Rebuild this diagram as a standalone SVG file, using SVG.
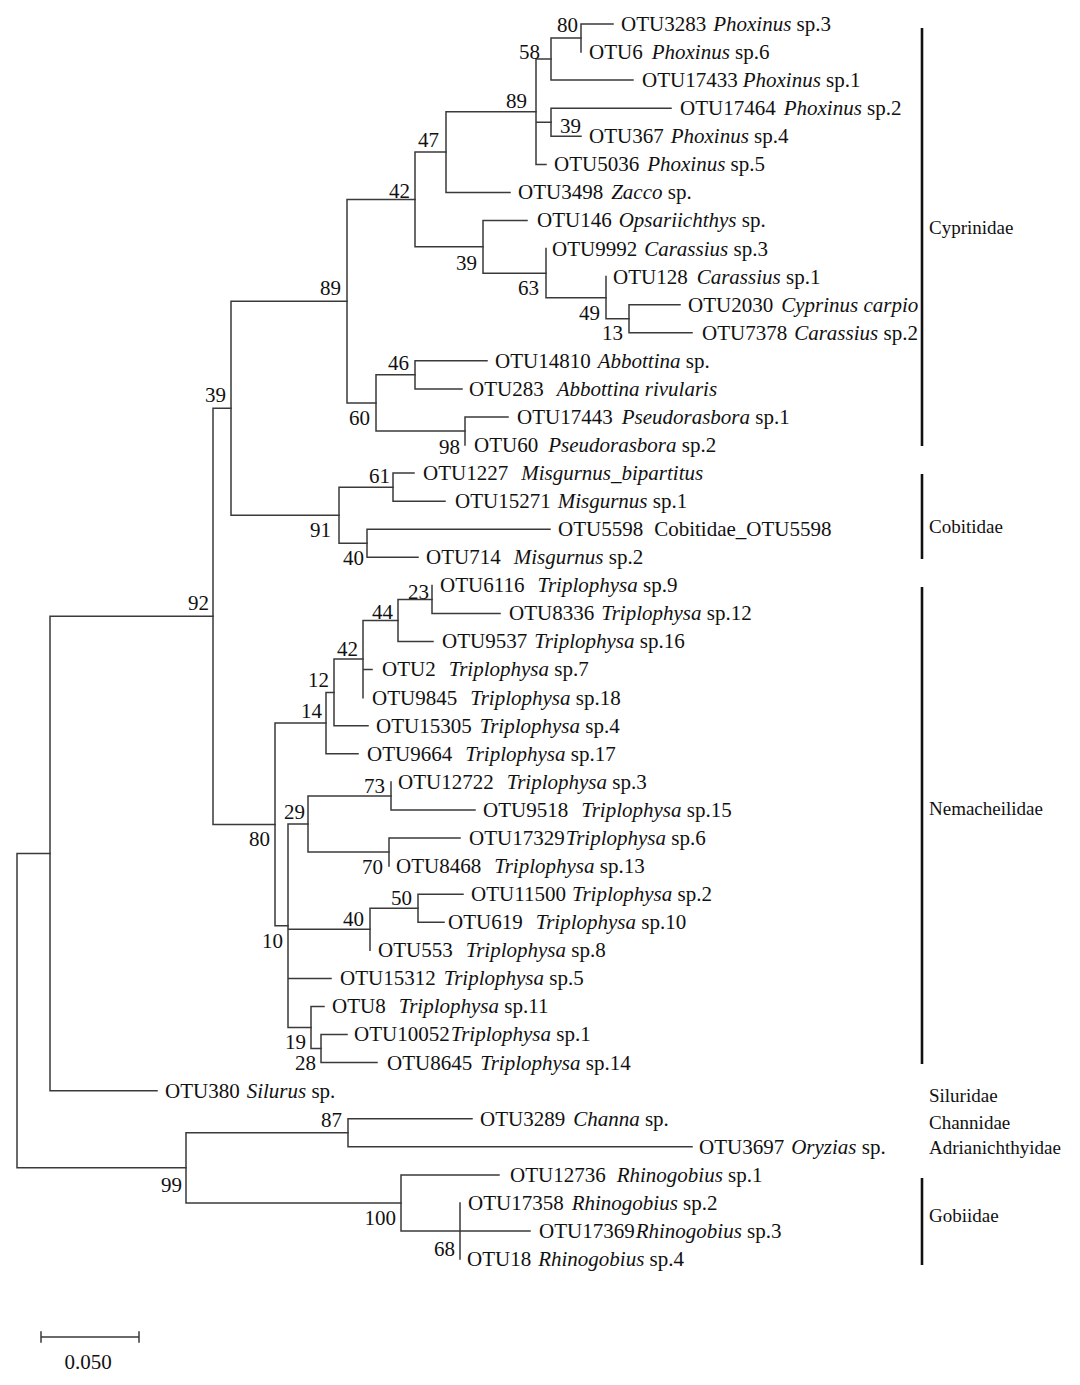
<svg xmlns="http://www.w3.org/2000/svg" width="1080" height="1385" viewBox="0 0 1080 1385">
<style>
text{font-family:"Liberation Serif","Times New Roman",serif;font-size:21px;fill:#111}
.i{font-style:italic}
.bs{text-anchor:end}
.fam{font-size:19px}
.br{fill:none;stroke:#3a3a3a;stroke-width:1.5;stroke-linecap:square}
.bar{stroke:#111;stroke-width:2.6}
</style>
<rect width="1080" height="1385" fill="#fff"/>
<g id="connectors" class="br">
<path d="M581 24V52.1M581 24H613"/>
<path d="M551 38.05V80.1M551 38.05H581M551 80.1H633"/>
<path d="M551 108.2V136.3M551 108.2H671M551 136.3H581"/>
<path d="M536 59.1V164.4M536 59.1H551M536 122.25H551M536 164.4H546"/>
<path d="M446 111.75V192.4M446 111.75H536M446 192.4H510"/>
<path d="M629 304.7V332.8M629 304.7H680M629 332.8H692"/>
<path d="M606 276.6V318.75M606 318.75H629"/>
<path d="M546 248.6V297.7M546 297.7H606"/>
<path d="M483 220.5V273.15M483 220.5H527M483 273.15H546"/>
<path d="M415 152.1V246.8M415 152.1H446M415 246.8H483"/>
<path d="M415 360.8V388.9M415 360.8H487M415 388.9H462"/>
<path d="M465 417V445.1M465 417H508"/>
<path d="M376 374.85V431.05M376 374.85H415M376 431.05H465"/>
<path d="M347 199.45V402.95M347 199.45H415M347 402.95H376"/>
<path d="M393 473.1V501.2M393 473.1H414M393 501.2H445"/>
<path d="M367 529.3V557.3M367 529.3H550M367 557.3H418"/>
<path d="M339 487.15V543.3M339 487.15H393M339 543.3H367"/>
<path d="M231 301.2V515.2M231 301.2H347M231 515.2H339"/>
<path d="M432 585.4V613.5M432 613.5H500"/>
<path d="M398 599.45V641.5M398 599.45H432M398 641.5H433"/>
<path d="M363 620.5V697.7M363 620.5H398M363 669.6H372"/>
<path d="M334 659.1V725.8M334 659.1H363M334 725.8H368"/>
<path d="M326 692.45V753.8M326 692.45H334M326 753.8H358"/>
<path d="M391 781.9V810M391 810H475"/>
<path d="M389 838V866.1M389 838H460"/>
<path d="M308 795.95V852.05M308 795.95H391M308 852.05H389"/>
<path d="M418 894.2V922.2M418 894.2H463M418 922.2H444"/>
<path d="M370 908.2V950.3M370 908.2H418"/>
<path d="M321 1034.5V1062.6M321 1034.5H347M321 1062.6H377"/>
<path d="M311 1006.5V1048.55M311 1006.5H324M311 1048.55H321"/>
<path d="M288 824V1027.5M288 824H308M288 929.25H370M288 978.4H331M288 1027.5H311"/>
<path d="M275 723.1V925.75M275 723.1H326M275 925.75H288"/>
<path d="M213 408.2V824.4M213 408.2H231M213 824.4H275"/>
<path d="M50 616.3V1090.7M50 616.3H213M50 1090.7H157"/>
<path d="M348 1118.7V1146.8M348 1118.7H472M348 1146.8H692"/>
<path d="M460 1202.9V1259M460 1231H530"/>
<path d="M401 1174.9V1231M401 1174.9H499M401 1231H460"/>
<path d="M186 1132.75V1202.95M186 1132.75H348M186 1202.95H401"/>
<path d="M17 853.5V1167.85M17 853.5H50M17 1167.85H186"/>
</g>
<g id="leaves">
<g id="otu3283"><text x="621" y="31">OTU3283<tspan class="i" dx="7">Phoxinus</tspan> sp.3</text></g>
<g id="otu6"><text x="589" y="59">OTU6<tspan class="i" dx="9">Phoxinus</tspan> sp.6</text></g>
<g id="otu17433"><text x="642" y="87">OTU17433<tspan class="i" dx="5">Phoxinus</tspan> sp.1</text></g>
<g id="otu17464"><text x="680" y="115">OTU17464<tspan class="i" dx="8">Phoxinus</tspan> sp.2</text></g>
<g id="otu367"><text x="589" y="143">OTU367<tspan class="i" dx="7">Phoxinus</tspan> sp.4</text></g>
<g id="otu5036"><text x="554" y="171">OTU5036<tspan class="i" dx="8">Phoxinus</tspan> sp.5</text></g>
<g id="otu3498"><text x="518" y="199">OTU3498<tspan class="i" dx="8">Zacco</tspan> sp.</text></g>
<g id="otu146"><text x="537" y="227">OTU146<tspan class="i" dx="7">Opsariichthys</tspan> sp.</text></g>
<g id="otu9992"><text x="552" y="256">OTU9992<tspan class="i" dx="7">Carassius</tspan> sp.3</text></g>
<g id="otu128"><text x="613" y="284">OTU128<tspan class="i" dx="9">Carassius</tspan> sp.1</text></g>
<g id="otu2030"><text x="688" y="312">OTU2030<tspan class="i" dx="8">Cyprinus carpio</tspan></text></g>
<g id="otu7378"><text x="702" y="340">OTU7378<tspan class="i" dx="7">Carassius</tspan> sp.2</text></g>
<g id="otu14810"><text x="495" y="368">OTU14810<tspan class="i" dx="7">Abbottina</tspan> sp.</text></g>
<g id="otu283"><text x="469" y="396">OTU283<tspan class="i" dx="13">Abbottina rivularis</tspan></text></g>
<g id="otu17443"><text x="517" y="424">OTU17443<tspan class="i" dx="9">Pseudorasbora</tspan> sp.1</text></g>
<g id="otu60"><text x="474" y="452">OTU60<tspan class="i" dx="10">Pseudorasbora</tspan> sp.2</text></g>
<g id="otu1227"><text x="423" y="480">OTU1227<tspan class="i" dx="13">Misgurnus_bipartitus</tspan></text></g>
<g id="otu15271"><text x="455" y="508">OTU15271<tspan class="i" dx="7">Misgurnus</tspan> sp.1</text></g>
<g id="otu5598"><text x="558" y="536">OTU5598<tspan dx="11">Cobitidae_OTU5598</tspan></text></g>
<g id="otu714"><text x="426" y="564">OTU714<tspan class="i" dx="13">Misgurnus</tspan> sp.2</text></g>
<g id="otu6116"><text x="440" y="592">OTU6116<tspan class="i" dx="13">Triplophysa</tspan> sp.9</text></g>
<g id="otu8336"><text x="509" y="620">OTU8336<tspan class="i" dx="7">Triplophysa</tspan> sp.12</text></g>
<g id="otu9537"><text x="442" y="648">OTU9537<tspan class="i" dx="7">Triplophysa</tspan> sp.16</text></g>
<g id="otu2"><text x="382" y="676">OTU2<tspan class="i" dx="13">Triplophysa</tspan> sp.7</text></g>
<g id="otu9845"><text x="372" y="705">OTU9845<tspan class="i" dx="13">Triplophysa</tspan> sp.18</text></g>
<g id="otu15305"><text x="376" y="733">OTU15305<tspan class="i" dx="8">Triplophysa</tspan> sp.4</text></g>
<g id="otu9664"><text x="367" y="761">OTU9664<tspan class="i" dx="13">Triplophysa</tspan> sp.17</text></g>
<g id="otu12722"><text x="398" y="789">OTU12722<tspan class="i" dx="13">Triplophysa</tspan> sp.3</text></g>
<g id="otu9518"><text x="483" y="817">OTU9518<tspan class="i" dx="13">Triplophysa</tspan> sp.15</text></g>
<g id="otu17329"><text x="469" y="845">OTU17329<tspan class="i" dx="1">Triplophysa</tspan> sp.6</text></g>
<g id="otu8468"><text x="396" y="873">OTU8468<tspan class="i" dx="13">Triplophysa</tspan> sp.13</text></g>
<g id="otu11500"><text x="471" y="901">OTU11500<tspan class="i" dx="6">Triplophysa</tspan> sp.2</text></g>
<g id="otu619"><text x="448" y="929">OTU619<tspan class="i" dx="13">Triplophysa</tspan> sp.10</text></g>
<g id="otu553"><text x="378" y="957">OTU553<tspan class="i" dx="13">Triplophysa</tspan> sp.8</text></g>
<g id="otu15312"><text x="340" y="985">OTU15312<tspan class="i" dx="8">Triplophysa</tspan> sp.5</text></g>
<g id="otu8"><text x="332" y="1013">OTU8<tspan class="i" dx="13">Triplophysa</tspan> sp.11</text></g>
<g id="otu10052"><text x="354" y="1041">OTU10052<tspan class="i" dx="1">Triplophysa</tspan> sp.1</text></g>
<g id="otu8645"><text x="387" y="1070">OTU8645<tspan class="i" dx="8">Triplophysa</tspan> sp.14</text></g>
<g id="otu380"><text x="165" y="1098">OTU380<tspan class="i" dx="7">Silurus</tspan> sp.</text></g>
<g id="otu3289"><text x="480" y="1126">OTU3289<tspan class="i" dx="8">Channa</tspan> sp.</text></g>
<g id="otu3697"><text x="699" y="1154">OTU3697<tspan class="i" dx="7">Oryzias</tspan> sp.</text></g>
<g id="otu12736"><text x="510" y="1182">OTU12736<tspan class="i" dx="11">Rhinogobius</tspan> sp.1</text></g>
<g id="otu17358"><text x="468" y="1210">OTU17358<tspan class="i" dx="8">Rhinogobius</tspan> sp.2</text></g>
<g id="otu17369"><text x="539" y="1238">OTU17369<tspan class="i" dx="1">Rhinogobius</tspan> sp.3</text></g>
<g id="otu18"><text x="467" y="1266">OTU18<tspan class="i" dx="7">Rhinogobius</tspan> sp.4</text></g>
</g>
<g id="bootstrap" class="bs">
<text x="578" y="32">80</text>
<text x="540" y="59">58</text>
<text x="527" y="108">89</text>
<text x="560" y="133" style="text-anchor:start">39</text>
<text x="439" y="147">47</text>
<text x="410" y="198">42</text>
<text x="477" y="270">39</text>
<text x="539" y="295">63</text>
<text x="600" y="320">49</text>
<text x="623" y="340">13</text>
<text x="341" y="295">89</text>
<text x="409" y="370">46</text>
<text x="370" y="425">60</text>
<text x="460" y="454">98</text>
<text x="226" y="402">39</text>
<text x="390" y="483">61</text>
<text x="331" y="537">91</text>
<text x="364" y="565">40</text>
<text x="209" y="610">92</text>
<text x="429" y="599">23</text>
<text x="393" y="619">44</text>
<text x="358" y="656">42</text>
<text x="329" y="687">12</text>
<text x="322" y="718">14</text>
<text x="385" y="793">73</text>
<text x="305" y="819">29</text>
<text x="270" y="846">80</text>
<text x="383" y="874">70</text>
<text x="412" y="905">50</text>
<text x="364" y="926">40</text>
<text x="283" y="948">10</text>
<text x="306" y="1049">19</text>
<text x="316" y="1070">28</text>
<text x="342" y="1127">87</text>
<text x="182" y="1192">99</text>
<text x="396" y="1225">100</text>
<text x="455" y="1256">68</text>
</g>
<g id="families">
<g id="cyprinidae"><line class="bar" x1="922" y1="28" x2="922" y2="446"/><text class="fam" x="929" y="234">Cyprinidae</text></g>
<g id="cobitidae"><line class="bar" x1="922" y1="474" x2="922" y2="559"/><text class="fam" x="929" y="533">Cobitidae</text></g>
<g id="nemacheilidae"><line class="bar" x1="922" y1="587" x2="922" y2="1064"/><text class="fam" x="929" y="815">Nemacheilidae</text></g>
<g id="siluridae"><text class="fam" x="929" y="1102">Siluridae</text></g>
<g id="channidae"><text class="fam" x="929" y="1129">Channidae</text></g>
<g id="adrianichthyidae"><text class="fam" x="929" y="1154">Adrianichthyidae</text></g>
<g id="gobiidae"><line class="bar" x1="922" y1="1178" x2="922" y2="1265"/><text class="fam" x="929" y="1222">Gobiidae</text></g>
</g>
<g id="scalebar">
<path class="br" d="M41 1337H139M41 1332V1342M139 1332V1342"/>
<text x="88" y="1369" style="text-anchor:middle">0.050</text>
</g>
</svg>
